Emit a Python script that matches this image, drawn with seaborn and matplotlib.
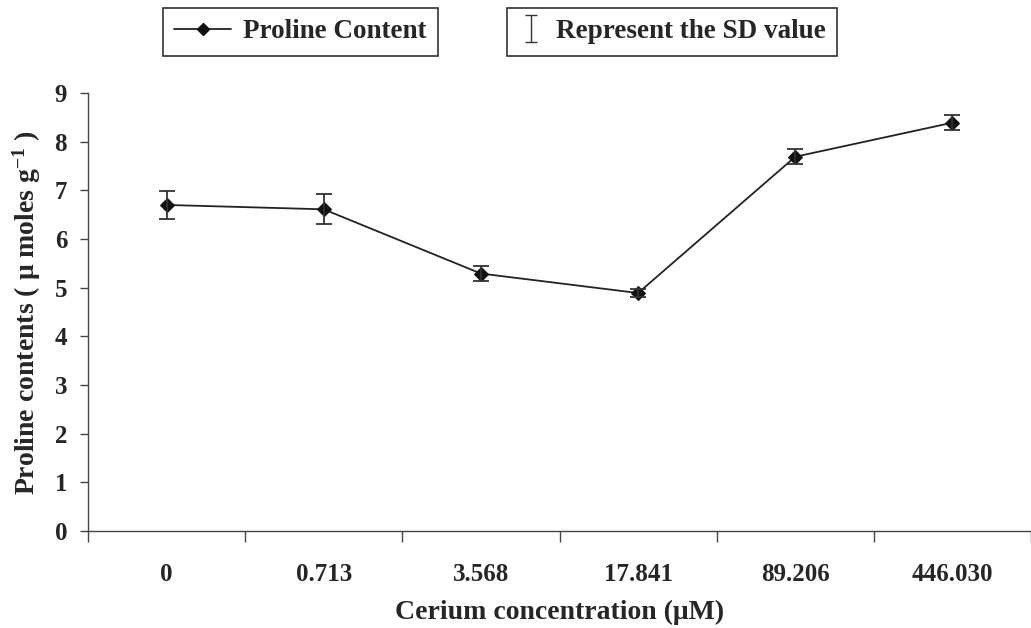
import numpy as np
import pandas as pd
import matplotlib
matplotlib.use("Agg")
import matplotlib.pyplot as plt
from matplotlib.lines import Line2D
import seaborn as sns

# Data
categories = ["0", "0.713", "3.568", "17.841", "89.206", "446.030"]
proline = [6.70, 6.61, 5.29, 4.89, 7.69, 8.39]
sd = [0.29, 0.31, 0.16, 0.09, 0.15, 0.15]
yticks = [0, 1, 2, 3, 4, 5, 6, 7, 8, 9]

sns.set_theme(style="white")
plt.rcParams['font.family'] = ['Liberation Serif', 'DejaVu Serif']
plt.rcParams['font.weight'] = 'bold'
plt.rcParams['mathtext.fontset'] = 'custom'
plt.rcParams['mathtext.rm'] = 'Liberation Serif:bold'
plt.rcParams['mathtext.bf'] = 'Liberation Serif:bold'
plt.rcParams['mathtext.it'] = 'Liberation Serif:bold'

df = pd.DataFrame({"conc": categories, "proline": proline, "sd": sd})
df["pos"] = np.arange(len(categories))

fig = plt.figure(figsize=(10.31, 6.28), dpi=100)
ax = fig.add_axes([88/1031, 1-531/628, 1-88/1031, (531-93)/628])

sns.lineplot(data=df, x="pos", y="proline", ax=ax, color="#222222", linewidth=1.3,
             marker="D", markersize=7, markeredgecolor="#111111", markerfacecolor="#111111",
             legend=False)
ax.errorbar(df["pos"], df["proline"], yerr=df["sd"], fmt="none", ecolor="#333333",
            elinewidth=1.3, capsize=6, capthick=1.3)

ax.set_xlim(-0.5, len(categories) - 0.5)
ax.set_ylim(0, 9)
ax.set_yticks(yticks)
ax.set_yticklabels([str(v) for v in yticks], fontsize=18, fontweight='bold')
ax.set_xticks(np.arange(len(categories) + 1) - 0.5)
ax.set_xticklabels([])
ax.set_xticks(df["pos"], minor=True)
ax.set_xticklabels(categories, minor=True, fontsize=18, fontweight='bold')
ax.tick_params(axis='x', which='major', direction='out', length=8, width=1, color='#444444', bottom=True)
ax.tick_params(axis='x', which='minor', length=0, pad=23)
ax.tick_params(axis='y', which='major', direction='out', length=6, width=1, color='#444444', left=True, pad=9)

for s in ["top", "right"]:
    ax.spines[s].set_visible(False)
for s in ["left", "bottom"]:
    ax.spines[s].set_color("#444444")
    ax.spines[s].set_linewidth(1.0)

ax.set_xlabel("Cerium concentration (μM)", fontsize=20, fontweight='bold', labelpad=10)
ax.set_ylabel("Proline contents ( μ moles g$^{-1}$ )", fontsize=20, fontweight='bold', labelpad=8)

h1 = Line2D([0], [0], color="#222222", linewidth=1.3, marker="D", markersize=6,
            markerfacecolor="#111111", markeredgecolor="#111111")
leg1 = fig.legend([h1], ["Proline Content"], loc="upper left",
                  bbox_to_anchor=(163/1031, 1-8/628), borderaxespad=0, fancybox=False, framealpha=1,
                  edgecolor="#333333", prop={'family': 'Liberation Serif', 'weight': 'bold', 'size': 19.5},
                  handlelength=2.1, borderpad=0.42, handletextpad=0.45)
leg1.get_frame().set_linewidth(1.2)

eb = ax.errorbar([np.nan], [np.nan], yerr=[1], fmt="none", ecolor="#333333",
                 elinewidth=1.0, capsize=4, capthick=1.0)
leg2 = fig.legend([eb], ["Represent the SD value"], loc="upper left",
                  bbox_to_anchor=(507/1031, 1-8/628), borderaxespad=0, fancybox=False, framealpha=1,
                  edgecolor="#333333", prop={'family': 'Liberation Serif', 'weight': 'bold', 'size': 19.5},
                  handlelength=0.9, borderpad=0.42, handletextpad=0.5)
leg2.get_frame().set_linewidth(1.2)

fig.savefig("out.png", dpi=100)
